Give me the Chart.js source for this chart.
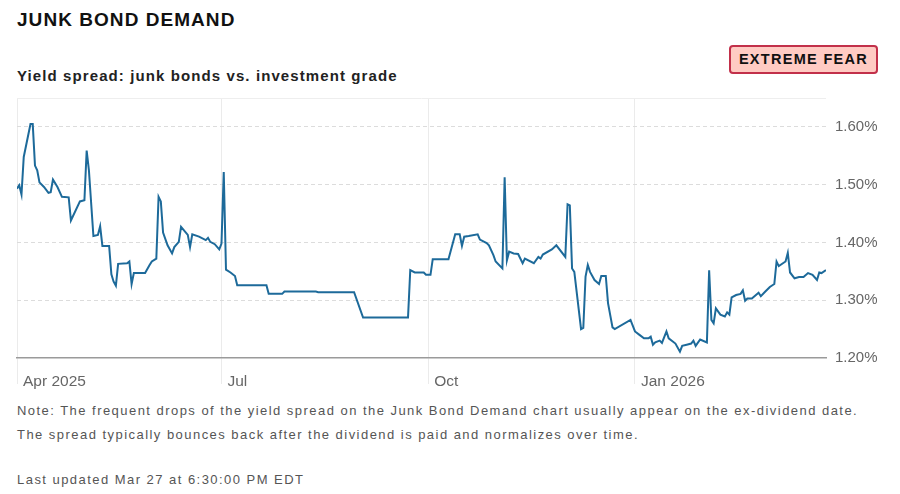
<!DOCTYPE html>
<html>
<head>
<meta charset="utf-8">
<script src="https://cdn.jsdelivr.net/npm/chart.js@4.4.1/dist/chart.umd.min.js"></script>
<style>
  html, body { margin: 0; padding: 0; background: #fff; width: 900px; height: 494px; overflow: hidden; }
  body { position: relative; font-family: "Liberation Sans", Arial, sans-serif; }
  .title { position: absolute; left: 17px; top: 9px; font-size: 19px; font-weight: bold; color: #111; letter-spacing: 1.05px; }
  .subtitle { position: absolute; left: 17px; top: 67px; font-size: 15px; font-weight: bold; color: #222; letter-spacing: 1.1px; }
  .badge { position: absolute; left: 729px; top: 45px; width: 145px; height: 25px; background: #ffcbc3; border: 2px solid #c2304a; border-radius: 4px; box-sizing: content-box; }
  .badge span { position: absolute; left: 0; right: 0; top: 4px; text-align: center; font-size: 14.5px; font-weight: bold; color: #111; letter-spacing: 1.3px; }
  .note { position: absolute; left: 17px; font-size: 13px; color: #555; letter-spacing: 1.46px; white-space: nowrap; }
  #wrap { position: absolute; left: 0; top: 80px; width: 900px; height: 320px; }
</style>
</head>
<body>
<div class="title">JUNK BOND DEMAND</div>
<div class="subtitle">Yield spread: junk bonds vs. investment grade</div>
<div class="badge"><span>EXTREME FEAR</span></div>
<div id="wrap"><canvas id="c" width="900" height="320"></canvas></div>
<div class="note" style="top:403px">Note: The frequent drops of the yield spread on the Junk Bond Demand chart usually appear on the ex-dividend date.</div>
<div class="note" style="top:427px">The spread typically bounces back after the dividend is paid and normalizes over time.</div>
<div class="note" style="top:472px">Last updated Mar 27 at 6:30:00 PM EDT</div>
<script>
// days since Apr 1 2025
const days = [0,1,2,3,6,7,8,9,10,12,14,15,16,18,20,23,24,28,30,31,32,34,36,37,38,41,42,43,44,45,49,50,51,52,57,59,60,62,63,64,65,67,69,70,72,73,76,77,78,81,84,85,86,88,90,91,92,93,95,97,98,111,112,118,119,133,134,150,154,174,175,177,181,182,184,185,192,195,197,198,199,201,205,206,209,210,212,213,216,217,218,219,221,223,225,226,230,232,233,234,238,240,244,245,246,247,248,251,252,253,254,255,257,259,260,262,263,265,266,273,275,277,279,281,282,283,284,286,287,289,290,293,295,296,298,300,301,302,304,307,308,309,310,311,313,315,316,317,318,320,322,323,324,325,327,330,331,333,335,337,338,339,342,343,344,346,348,350,352,354,356,357,358,360];
const spread = [1.493,1.499,1.483,1.548,1.605,1.605,1.533,1.525,1.504,1.496,1.486,1.487,1.509,1.496,1.479,1.478,1.438,1.471,1.473,1.559,1.525,1.411,1.413,1.428,1.394,1.394,1.345,1.332,1.325,1.363,1.364,1.367,1.328,1.347,1.347,1.361,1.367,1.372,1.479,1.471,1.417,1.395,1.381,1.392,1.401,1.427,1.413,1.392,1.414,1.410,1.404,1.408,1.401,1.397,1.388,1.398,1.522,1.353,1.348,1.342,1.326,1.326,1.311,1.311,1.315,1.315,1.314,1.314,1.270,1.270,1.352,1.348,1.348,1.344,1.344,1.371,1.371,1.414,1.414,1.394,1.410,1.411,1.414,1.405,1.399,1.395,1.378,1.367,1.355,1.513,1.369,1.384,1.381,1.380,1.364,1.372,1.364,1.375,1.372,1.379,1.388,1.395,1.375,1.466,1.464,1.355,1.349,1.250,1.252,1.341,1.361,1.349,1.335,1.328,1.342,1.342,1.295,1.253,1.250,1.266,1.246,1.240,1.234,1.234,1.237,1.223,1.227,1.230,1.226,1.246,1.234,1.225,1.211,1.221,1.223,1.225,1.230,1.221,1.232,1.227,1.352,1.266,1.260,1.286,1.275,1.272,1.279,1.275,1.305,1.309,1.311,1.317,1.299,1.303,1.303,1.313,1.307,1.315,1.323,1.328,1.367,1.359,1.367,1.382,1.348,1.338,1.340,1.340,1.347,1.344,1.335,1.348,1.347,1.352];
const xTickDays = [0, 91, 183, 275];
const xTickLabels = ['Apr 2025', 'Jul', 'Oct', 'Jan 2026'];
const yTicks = [1.2, 1.3, 1.4, 1.5, 1.6];
const yMin = 1.2, yMax = 1.65;
const xMin = 0, xMax = 360;

const points = days.map((d, i) => ({ x: d, y: spread[i] }));

new Chart(document.getElementById('c'), {
  type: 'line',
  data: { datasets: [{ data: points, borderColor: '#1d6a9a', borderWidth: 2, pointRadius: 0, tension: 0, fill: false }] },
  options: {
    responsive: false,
    animation: false,
    events: [],
    layout: { padding: { left: 17, top: 0, right: 0, bottom: 0 } },
    plugins: { legend: { display: false }, tooltip: { enabled: false } },
    scales: {
      x: {
        type: 'linear', min: xMin, max: xMax,
        afterBuildTicks: s => { s.ticks = xTickDays.map(v => ({ value: v })); },
        afterFit: s => { s.height = 42; },
        ticks: {
          autoSkip: false, maxRotation: 0, align: 'start', labelOffset: 6, padding: -12,
          color: '#666', font: { family: 'Liberation Sans', size: 15.5 },
          callback: v => xTickLabels[xTickDays.indexOf(v)] || ''
        },
        grid: { color: '#ebebeb', tickColor: '#ebebeb', tickLength: 26, lineWidth: 1 },
        border: { color: '#9a9a9a', width: 1.5 }
      },
      y: {
        position: 'right', min: yMin, max: yMax,
        afterBuildTicks: s => { s.ticks = yTicks.concat([yMax]).map(v => ({ value: v })); },
        afterFit: s => { s.width = 74; },
        ticks: {
          padding: 9, color: '#666', font: { family: 'Liberation Sans', size: 15 },
          callback: v => (yTicks.includes(v) ? v.toFixed(2) + '%' : '')
        },
        grid: {
          drawTicks: false,
          color: c => (c.tick && c.tick.value === yMax ? '#eeeeee' : (c.tick && c.tick.value === yMin ? 'rgba(0,0,0,0)' : '#dcdcdc')),
          lineWidth: 1
        },
        border: { display: false, dash: c => (c.tick && c.tick.value === yMax ? [] : [4, 3]) }
      }
    }
  }
});
</script>
</body>
</html>
